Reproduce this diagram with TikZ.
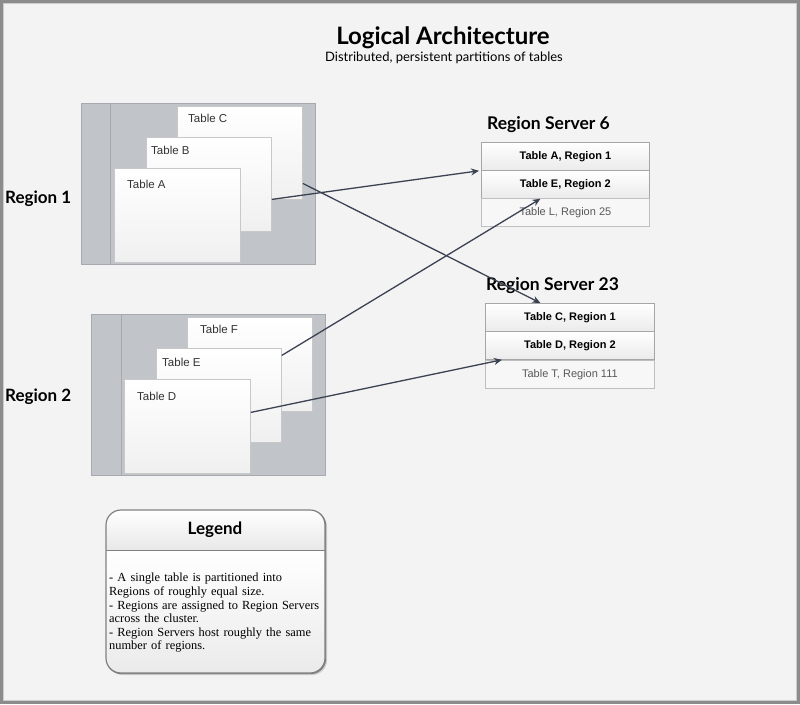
\documentclass[tikz,border=0pt]{standalone}
\usepackage{fontspec}
\setmainfont{Liberation Sans}
\newfontfamily\gill{Lato}
\newfontfamily\legserif{Liberation Serif}
\usetikzlibrary{shadows,arrows.meta}
\definecolor{bgc}{HTML}{F3F3F3}
\definecolor{grp}{HTML}{C1C5C9}
\definecolor{grpline}{HTML}{A6AAAE}
\definecolor{tblline}{HTML}{C8C8C8}
\definecolor{arr}{HTML}{3B4252}
\tikzset{
  grpbox/.style={draw=grpline, fill=grp, line width=0.8pt, minimum width=#1, anchor=north west, inner sep=0pt},
  tbl/.style={draw=tblline, line width=0.8pt, top color=white, bottom color=black!6, anchor=north west, inner sep=0pt,
    drop shadow={shadow xshift=1pt, shadow yshift=-1pt, opacity=0.25}},
  tlabel/.style={anchor=west, font=\fontsize{11.5}{13}\selectfont, text=black!80, inner sep=0pt},
  row/.style={draw=black!35, line width=0.8pt, top color=white, bottom color=black!8, minimum width=168pt, minimum height=28pt, inner sep=0pt, anchor=north west, font=\bfseries\fontsize{11}{13}\selectfont},
  rowlight/.style={draw=black!25, line width=0.8pt, fill=black!3, minimum width=168pt, minimum height=28pt, inner sep=0pt, anchor=north west, font=\fontsize{11}{13}\selectfont, text=black!65},
  srvtitle/.style={anchor=west, font=\gill\bfseries\fontsize{17.5}{20}\selectfont, inner sep=0pt},
  regtitle/.style={anchor=west, font=\gill\bfseries\fontsize{17}{20}\selectfont, inner sep=0pt},
  conn/.style={draw=arr, line width=1.3pt, -{Stealth[length=8pt,width=7pt]}},
}
\begin{document}
\begin{tikzpicture}[x=1pt,y=-1pt]
\useasboundingbox (0,0) rectangle (800,704);
% background and frame
\fill[bgc] (0,0) rectangle (800,704);
\draw[black!45, line width=3pt] (1.5,1.5) rectangle (798.5,702.5);
\draw[black!20, line width=1pt] (3.5,3.5) rectangle (796.5,700.5);

% titles
\node[font=\gill\bfseries\fontsize{24}{26}\selectfont, inner sep=0pt] (title) at (443,38) {Logical Architecture};
\node[font=\gill\fontsize{13}{15}\selectfont, inner sep=0pt] (subtitle) at (444,58) {Distributed, persistent partitions of tables};

% Region 1 group
\node[grpbox=234pt, minimum height=161pt] (g1) at (81,103) {};
\draw[grpline, line width=1pt] (110,103) -- (110,264) coordinate (g1v);
\node[tbl, minimum width=125pt, minimum height=93pt] (tC) at (177,106) {};
\node[tbl, minimum width=125pt, minimum height=94pt] (tB) at (146,137) {};
\node[tbl, minimum width=126pt, minimum height=94pt] (tA) at (114,168) {};
\node[tlabel] (lC) at (188,118) {Table C};
\node[tlabel] (lB) at (151,150) {Table B};
\node[tlabel] (lA) at (127,184) {Table A};
\node[regtitle] (r1) at (5,199) {Region 1};

% Region 2 group
\node[grpbox=234pt, minimum height=161pt] (g2) at (91,314) {};
\draw[grpline, line width=1pt] (121,314) -- (121,475) coordinate (g2v);
\node[tbl, minimum width=125pt, minimum height=94pt] (tF) at (187,317) {};
\node[tbl, minimum width=125pt, minimum height=94pt] (tE) at (156,348) {};
\node[tbl, minimum width=126pt, minimum height=94pt] (tD) at (124,379) {};
\node[tlabel] (lF) at (200,329) {Table F};
\node[tlabel] (lE) at (162,362) {Table E};
\node[tlabel] (lD) at (137,396) {Table D};
\node[regtitle] (r2) at (5,397) {Region 2};

% Region Server 6
\node[srvtitle] (s6) at (487,125) {Region Server 6};
\node[row] (a1) at (481,142) {Table A, Region 1};
\node[row] (e2) at (481,170) {Table E, Region 2};
\node[rowlight] (l25) at (481,198) {Table L, Region 25};

% Region Server 23
\node[srvtitle] (s23) at (486,286) {Region Server 23};
\node[row, minimum width=169pt] (c1) at (485,303) {Table C, Region 1};
\node[row, minimum width=169pt] (d2) at (485,331) {Table D, Region 2};
\node[rowlight, minimum width=169pt] (t111) at (485,360) {Table T, Region 111};

% connectors
\draw[conn] ([yshift=-30.5pt]tC.east) -- ([xshift=-29.5pt]c1.north);
\draw[conn] ([yshift=-15pt]tB.east) -- ([xshift=-2pt]a1.south west);
\draw[conn] ([yshift=40pt]tE.east) -- ([xshift=-25pt]e2.south);
\draw[conn] ([yshift=14pt]tD.east) -- ([xshift=17pt]d2.south west);

% Legend
\node[draw=black!50, line width=1.2pt, rounded corners=15pt, minimum width=219pt, minimum height=163pt, anchor=north west,
  fill=white, inner sep=0pt,
  drop shadow={shadow xshift=1.5pt, shadow yshift=-1.5pt, opacity=0.3}] (leg) at (106,510) {};
\begin{scope}
\clip[rounded corners=15pt] (106,510) rectangle (325,673);
\fill[top color=white, bottom color=black!9] (106,510) rectangle (325,550);
\fill[top color=white, bottom color=black!8] (106,550) rectangle (325,673);
\end{scope}
\draw[black!50, line width=1.2pt, rounded corners=15pt] (106,510) rectangle (325,673);
\draw[black!50, line width=1pt] (leg.west |- 0,550) coordinate (hl) -- (leg.east |- 0,550) coordinate (hr);
\node[font=\gill\bfseries\fontsize{17}{20}\selectfont, inner sep=0pt] (legt) at (215,530) {Legend};
\node[anchor=north west, inner sep=0pt, text width=216pt, align=left, font=\legserif\fontsize{12.4}{13.6}\selectfont] (legbody) at (109,573)
 {- A single table is partitioned into\\ Regions of roughly equal size.\\ - Regions are assigned to Region Servers\\ across the cluster.\\ - Region Servers host roughly the same\\ number of regions.};
\end{tikzpicture}
\end{document}
